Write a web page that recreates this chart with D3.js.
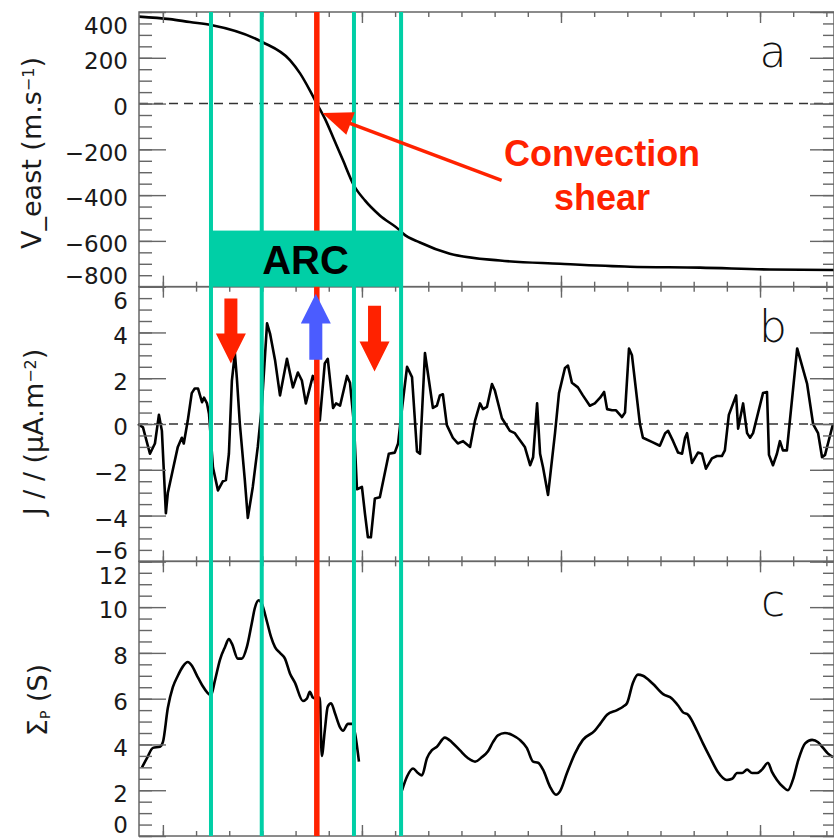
<!DOCTYPE html>
<html>
<head>
<meta charset="utf-8">
<script src="https://cdn.jsdelivr.net/npm/d3@7"></script>
<style>
  body { margin: 0; background: #fff; }
  .lab { font-family: "DejaVu Sans", sans-serif; fill: #1a1a1a; }
  .letter { font-family: "DejaVu Sans", sans-serif; font-weight: 200; fill: #111; }
  .ann { font-family: "Liberation Sans", Arial, sans-serif; font-weight: bold; }
</style>
</head>
<body>
<svg></svg>
<script>
var width = 834,
    height = 840,
    left = 139,
    right = 834,
    plotTop = 12,
    panelH = 274.67;

var cyan = '#00CFA6',
    red = '#FF2200',
    blue = '#4B5CFF',
    axisColor = '#666';

// Panel a: eastward convection velocity
var vEastTime = [-7.2, 2.1, 8.1, 14.5, 29.8, 38.3, 41.3, 44.3, 46.4, 48.8, 51.3, 54.3, 57.6, 60.9,
    65.4, 71.5, 72.4, 77.5, 86.5, 101.6, 119.7, 140.8, 161.9, 183.0, 202.3];
var vEastValue = [380, 369, 356, 343, 270, 190, 133, 58, 0, -65, -147, -248, -358, -423,
    -489, -555, -568, -607, -656, -686, -700, -713, -717, -725, -727];

// Panel b: field-aligned current
var jparTime = [-7.5, -6.0, -3.9, -2.4, -1.2, -0.3, 0.9, 1.5, 3.0, 4.5, 5.7, 6.3, 7.5, 8.7, 9.6, 10.6,
    11.8, 12.4, 13.3, 13.9, 15.1, 16.6, 18.1, 19.0, 19.9, 20.8, 21.7, 22.3, 23.2, 24.7, 25.6, 27.1,
    28.6, 29.8, 31.4, 32.3, 33.8, 35.3, 37.4, 39.2, 40.7, 41.9, 43.1, 45.2, 45.8, 47.3, 48.8, 49.7,
    51.3, 52.2, 53.4, 55.5, 56.4, 57.6, 58.5, 60.0, 60.9, 61.8, 62.7, 63.9, 65.4, 68.1, 69.9, 70.9,
    72.1, 73.6, 75.1, 76.6, 77.5, 79.0, 81.4, 82.6, 83.5, 84.4, 85.6, 87.4, 88.9, 90.5, 92.6, 94.1,
    95.6, 96.5, 97.7, 99.2, 100.1, 102.2, 104.6, 106.1, 109.1, 110.7, 111.6, 112.8, 113.7, 114.6,
    116.1, 118.2, 119.4, 121.2, 122.1, 123.3, 125.1, 126.6, 128.7, 130.2, 131.8, 133.0, 133.9,
    135.4, 136.6, 138.4, 139.3, 140.5, 141.4, 143.8, 144.7, 147.7, 149.8, 151.4, 152.3, 153.8,
    155.3, 156.5, 157.4, 158.0, 159.5, 161.3, 162.5, 163.7, 165.5, 167.0, 168.5, 169.4, 170.6,
    172.8, 173.4, 174.9, 176.1, 177.0, 177.9, 180.9, 182.1, 182.7, 183.9, 185.1, 186.0, 186.9,
    188.1, 191.2, 194.2, 196.0, 197.5, 198.7, 199.6, 202.0];
var jparValue = [0.0, -0.15, -1.3, -0.85, 0.4, -0.3, -3.9, -3.0, -2.0, -1.0, -0.6, -0.85, 0.15, 1.35, 1.55, 1.55,
    0.95, 1.15, 0.9, 0.45, -1.9, -2.9, -2.5, -2.45, -1.3, 1.9, 3.1, 2.0, 0.0, -2.45, -4.1, -2.75,
    -1.0, 0.75, 4.4, 3.95, 2.8, 1.25, 2.85, 1.6, 2.25, 1.9, 0.9, 2.1, 1.9, 0.15, 2.65, 2.85,
    0.7, 0.9, 0.8, 2.1, 1.8, 0.0, -2.85, -2.75, -3.9, -4.95, -4.95, -3.25, -3.2, -1.3, -1.25, -0.85,
    0.7, 2.5, 2.05, -1.2, -1.3, 3.1, 0.7, 0.8, 1.25, 1.3, -0.05, -0.6, -0.85, -0.75, -1.0, 0.15,
    0.9, 0.65, 0.75, 1.75, 1.45, 0.25, -0.3, -0.4, -1.0, -1.8, -1.45, 0.9, -1.3, -1.9,
    -3.1, -0.4, 1.35, 2.45, 2.55, 1.8, 1.6, 1.25, 0.8, 0.9, 1.15, 1.4, 0.65,
    0.6, 0.6, 0.3, 0.5, 3.3, 3.0, 0.0, -0.6, -0.8, -0.95, -0.4, -0.3, -0.75,
    -1.25, -1.3, -0.6, -0.4, -1.7, -1.25, -1.3, -1.95, -1.5, -1.4, -1.4, -1.15, 0.4,
    1.25, -0.2, 0.9, -0.4, -0.6, -0.4, 1.35, 1.4, -1.35, -1.8, -1.3, -0.75, -1.15,
    -1.15, 3.3, 1.75, 0.0, -0.4, -1.45, -1.35, 0.0];

// Panel c: Pedersen conductance (null = data gap)
var sigmaTime = [-6.3, -4.8, -3.0, -0.9, 0, 1.5, 3.0, 4.5, 6.0, 7.5, 8.7, 10.3, 11.8, 14.5, 15.7, 17.2,
    18.7, 19.9, 20.8, 22.6, 23.8, 25.3, 26.8, 27.7, 28.9, 29.8, 31.4, 32.6, 33.8, 35.3, 36.8, 38.3,
    39.8, 42.2, 43.4, 44.3, 45.2, 46.1, 47.3, 47.9, 48.8, 49.7, 50.7, 51.9, 53.4, 54.3, 55.8, 57.0,
    57.9, 59.1, 65.0, 72.1, 73.6, 75.4, 76.9, 78.1, 79.6, 81.1, 82.6, 85.0, 87.1, 89.5, 92.0, 94.1,
    96.2, 98.0, 99.5, 101.0, 103.1, 105.5, 107.6, 109.7, 111.6, 113.1, 114.6, 116.7, 118.5, 119.7,
    121.8, 124.2, 126.6, 130.2, 131.8, 133.9, 136.9, 138.7, 139.9, 141.7, 143.2, 144.7, 147.7,
    150.8, 153.5, 155.3, 156.8, 158.3, 161.0, 162.8, 164.9, 167.3, 170.0, 171.6, 173.1, 174.6,
    176.1, 177.6, 179.1, 180.6, 182.4, 183.6, 185.1, 186.9, 188.4, 189.9, 191.5, 193.6, 195.7,
    197.5, 199.0, 200.5, 202.0];
var sigmaValue = [3.0, 3.4, 3.85, 3.9, 4.1, 5.6, 6.5, 7.0, 7.4, 7.6, 7.45, 7.0, 6.6, 6.15, 6.8, 7.7,
    8.25, 8.6, 8.4, 7.75, 7.75, 8.25, 9.3, 9.95, 10.3, 10.15, 9.35, 8.7, 8.25, 8.0, 7.75, 7.1,
    6.7, 5.9, 6.0, 6.3, 6.05, 6.0, 6.05, 3.5, 4.6, 5.65, 5.8, 5.35, 4.75, 4.6, 4.9, 4.9,
    4.5, 3.25, null, 2.0, 2.6, 2.95, 2.75, 2.65, 3.4, 3.75, 3.9, 4.3, 4.1, 3.75, 3.4, 3.25,
    3.45, 3.7, 4.1, 4.4, 4.5, 4.4, 4.2, 3.85, 3.25, 3.2, 2.9, 2.15, 1.8, 1.95,
    2.75, 3.6, 4.2, 4.6, 4.9, 5.3, 5.5, 5.65, 5.8, 6.7, 7.05, 7.0, 6.65,
    6.2, 6.0, 5.7, 5.4, 5.3, 4.6, 4.05, 3.45, 2.8, 2.45, 2.5, 2.75, 2.75,
    2.9, 2.75, 2.75, 2.9, 3.2, 2.8, 2.45, 2.15, 2.0, 2.45, 3.3, 4.05, 4.2,
    4.1, 3.85, 3.6, 3.45];

// Tick labels
var vEastTicks = [400, 200, 0, -200, -400, -600, -800];
var jparTicks = [6, 4, 2, 0, -2, -4, -6];
var sigmaTicks = [12, 10, 8, 6, 4, 2, 0];
var timeMinorTicks = d3.range(0, 201, 10);
var timeMajorTicks = [0, 60, 120, 180];

// Arc boundaries and convection reversal
var arcBounds = [14.5, 29.8, 57.6, 71.8];
var shearTime = [46.4];

var svg = d3.select('svg')
    .attr('width', width)
    .attr('height', height);

var x = d3.scaleLinear()
    .domain([-7.2, 202.3])
    .range([left, right]);

var curveLayer = svg.append('g');
var frameLayer = svg.append('g');
var markLayer = svg.append('g');

function fmt(v) {
    return v < 0 ? '\u2212' + Math.abs(v) : '' + v;
}

function drawPanel(i, ticks, minorStep, times, values, curve, zeroLine) {
    var y0 = plotTop + i * panelH,
        y1 = y0 + panelH;
    var y = d3.scaleLinear()
        .domain([ticks[ticks.length - 1], ticks[0]])
        .range([y1, y0]);

    // zero reference
    if (zeroLine) {
        curveLayer.append('line')
            .attr('x1', left).attr('x2', right)
            .attr('y1', y(0)).attr('y2', y(0))
            .attr('stroke', '#333')
            .attr('stroke-width', 1.6)
            .attr('stroke-dasharray', '9,6');
    }

    var line = d3.line()
        .defined(function (d) { return d[1] !== null; })
        .x(function (d) { return x(d[0]); })
        .y(function (d) { return y(d[1]); })
        .curve(curve);

    curveLayer.append('path')
        .datum(d3.zip(times, values))
        .attr('d', line)
        .attr('fill', 'none')
        .attr('stroke', '#000')
        .attr('stroke-width', 2.6)
        .attr('stroke-linejoin', 'round');

    var g = frameLayer.append('g');
    var minor = d3.range(y.domain()[0], y.domain()[1] + 0.001, minorStep);

    // y ticks, left and right, inward
    g.append('g').attr('transform', 'translate(' + left + ',0)')
        .call(d3.axisRight(y).tickValues(minor).tickSize(13).tickFormat(''));
    g.append('g').attr('transform', 'translate(' + left + ',0)')
        .call(d3.axisRight(y).tickValues(ticks).tickSize(27).tickFormat(''));
    g.append('g').attr('transform', 'translate(' + right + ',0)')
        .call(d3.axisLeft(y).tickValues(minor).tickSize(11).tickFormat(''));
    g.append('g').attr('transform', 'translate(' + right + ',0)')
        .call(d3.axisLeft(y).tickValues(ticks).tickSize(24).tickFormat(''));

    // x ticks, top and bottom, inward
    g.append('g').attr('transform', 'translate(0,' + y0 + ')')
        .call(d3.axisBottom(x).tickValues(timeMinorTicks).tickSize(5).tickFormat(''));
    g.append('g').attr('transform', 'translate(0,' + y0 + ')')
        .call(d3.axisBottom(x).tickValues(timeMajorTicks).tickSize(11).tickFormat(''));
    g.append('g').attr('transform', 'translate(0,' + y1 + ')')
        .call(d3.axisTop(x).tickValues(timeMinorTicks).tickSize(5).tickFormat(''));
    g.append('g').attr('transform', 'translate(0,' + y1 + ')')
        .call(d3.axisTop(x).tickValues(timeMajorTicks).tickSize(11).tickFormat(''));

    g.selectAll('.domain').remove();
    g.selectAll('line').attr('stroke', axisColor).attr('stroke-width', 1.4);

    g.append('rect')
        .attr('x', left).attr('y', y0)
        .attr('width', right - left).attr('height', panelH)
        .attr('fill', 'none')
        .attr('stroke', axisColor)
        .attr('stroke-width', 1.5);

    // tick labels, end labels pulled inside the panel
    svg.selectAll(null)
        .data(ticks)
        .enter().append('text')
        .attr('class', 'lab')
        .attr('x', 128)
        .attr('y', function (d, k) {
            var off = k === 0 ? 14 : (k === ticks.length - 1 ? -11 : 3);
            return y(d) + off;
        })
        .attr('dy', '0.36em')
        .attr('text-anchor', 'end')
        .style('font-size', '23px')
        .text(fmt);

    // panel letter
    svg.append('text')
        .attr('class', 'letter')
        .attr('x', 773)
        .attr('y', y0 + 55)
        .attr('text-anchor', 'middle')
        .style('font-size', '44px')
        .text('abc'[i]);

    return y;
}

var yA = drawPanel(0, vEastTicks, 50, vEastTime, vEastValue, d3.curveMonotoneX, true);
var yB = drawPanel(1, jparTicks, 0.5, jparTime, jparValue, d3.curveLinear, true);
var yC = drawPanel(2, sigmaTicks, 0.5, sigmaTime, sigmaValue, d3.curveMonotoneX, false);

// axis titles
function title(cx, cy, parts) {
    var t = svg.append('text')
        .attr('class', 'lab')
        .attr('transform', 'translate(' + cx + ',' + cy + ') rotate(-90)')
        .attr('text-anchor', 'middle')
        .attr('dy', '0.36em')
        .style('font-size', '27px');
    parts.forEach(function (p) {
        var s = t.append('tspan').text(p[0]);
        if (p[1] === 'sup') s.attr('baseline-shift', '45%').style('font-size', '16px');
        if (p[1] === 'sub') s.attr('baseline-shift', '-20%').style('font-size', '14px');
    });
}
title(31, 153, [['V_east  (m.s'], ['\u22121', 'sup'], [')']]);
title(33, 432, [['J / /  (\u03bcA.m'], ['\u22122', 'sup'], [')']]);
title(37, 700, [['\u03a3'], ['P', 'sub'], [' (S)']]);

// vertical boundary lines over all panels
var yTopAll = plotTop, yBotAll = plotTop + 3 * panelH;
markLayer.selectAll('.bound')
    .data(arcBounds)
    .enter().append('line')
    .attr('x1', x).attr('x2', x)
    .attr('y1', yTopAll).attr('y2', yBotAll)
    .attr('stroke', cyan)
    .attr('stroke-width', 4);
markLayer.selectAll('.shear')
    .data(shearTime)
    .enter().append('line')
    .attr('x1', x).attr('x2', x)
    .attr('y1', yTopAll).attr('y2', yBotAll)
    .attr('stroke', red)
    .attr('stroke-width', 5.5);

// ARC box
markLayer.append('rect')
    .attr('x', x(arcBounds[0]) - 2)
    .attr('y', yA(-555))
    .attr('width', x(arcBounds[3]) - x(arcBounds[0]) + 4)
    .attr('height', yA(-800) - yA(-555))
    .attr('fill', cyan);
markLayer.append('text')
    .attr('class', 'ann')
    .attr('x', x(43))
    .attr('y', yA(-743))
    .attr('text-anchor', 'middle')
    .style('font-size', '40px')
    .attr('fill', '#000')
    .text('ARC');

// Convection shear annotation
(function () {
    var sx = x(102.1), sy = yA(-336),
        tx = x(48.1), ty = yA(-41);
    var dx = tx - sx, dy = ty - sy, len = Math.sqrt(dx * dx + dy * dy);
    var ux = dx / len, uy = dy / len, hl = 30, hw = 12;
    var bx = tx - ux * hl, by = ty - uy * hl;
    markLayer.append('line')
        .attr('x1', sx).attr('y1', sy)
        .attr('x2', bx + ux * 2).attr('y2', by + uy * 2)
        .attr('stroke', red)
        .attr('stroke-width', 3.5);
    markLayer.append('path')
        .attr('d', 'M' + tx + ',' + ty +
            'L' + (bx - uy * hw) + ',' + (by + ux * hw) +
            'L' + (bx + uy * hw) + ',' + (by - ux * hw) + 'Z')
        .attr('fill', red);
})();
markLayer.append('text')
    .attr('class', 'ann')
    .attr('x', x(132.4))
    .attr('y', yA(-274))
    .attr('text-anchor', 'middle')
    .attr('fill', red)
    .style('font-size', '36px')
    .text('Convection');
markLayer.append('text')
    .attr('class', 'ann')
    .attr('x', x(132.4))
    .attr('y', yA(-467))
    .attr('text-anchor', 'middle')
    .attr('fill', red)
    .style('font-size', '36px')
    .text('shear');

// block arrows in panel b
function blockArrow(t, vTail, vBase, vTip, color) {
    var cx = x(t), a = yB(vTail), b = yB(vBase), c = yB(vTip),
        sw = 6.5, hw = 15;
    markLayer.append('path')
        .attr('d', 'M' + (cx - sw) + ',' + a + 'L' + (cx + sw) + ',' + a +
            'L' + (cx + sw) + ',' + b + 'L' + (cx + hw) + ',' + b +
            'L' + cx + ',' + c + 'L' + (cx - hw) + ',' + b +
            'L' + (cx - sw) + ',' + b + 'Z')
        .attr('fill', color);
}
blockArrow(20.5, 5.48, 3.95, 2.64, red);
blockArrow(63.8, 5.17, 3.6, 2.29, red);
blockArrow(46.1, 2.81, 4.39, 5.69, blue);
</script>
</body>
</html>
